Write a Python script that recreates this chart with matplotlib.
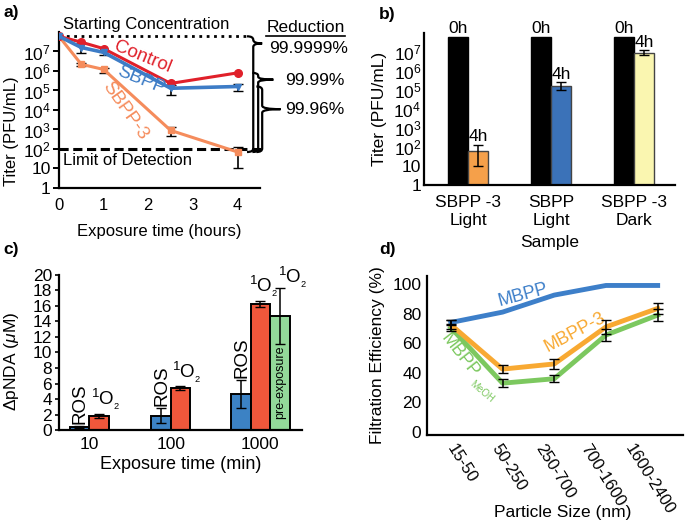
import numpy as np
import matplotlib.pyplot as plt
from matplotlib.path import Path
from matplotlib.patches import PathPatch
from matplotlib.lines import Line2D

plt.rcParams['font.family'] = ['Liberation Sans', 'DejaVu Sans']
plt.rcParams['mathtext.fontset'] = 'custom'
plt.rcParams['mathtext.rm'] = 'Liberation Sans'
plt.rcParams['mathtext.it'] = 'Liberation Sans:italic'
plt.rcParams['font.size'] = 12

#------------------------ panel a data ------------------------
t_hours = [0, 0.5, 1, 2.5, 4]
control = [6e7, 3e7, 1.4e7, 2.3e5, 8e5]
sbpp = [6e7, 1.6e7, 9e6, 1.3e5, 1.6e5]
sbpp3 = [6e7, 2.2e6, 1.2e6, 900, 70]
sbpp_lo = [6e7, 8e6, 7e6, 6e4, 9e4]
sbpp_hi = [6e7, 2.6e7, 1.1e7, 2e5, 2.1e5]
sbpp3_lo = [6e7, 1.7e6, 8e5, 450, 10]
sbpp3_hi = [6e7, 2.6e6, 1.4e6, 1300, 120]
start_conc = 6e7
lod = 100
log_ticks = [1, 10, 1e2, 1e3, 1e4, 1e5, 1e6, 1e7]
log_labels = ['1', '10'] + [r'$\mathregular{10^{%d}}$' % k for k in range(2, 8)]

#------------------------ panel b data ------------------------
samples = ['SBPP -3\nLight', 'SBPP\nLight', 'SBPP -3\nDark']
titer_0h = [6e7, 6e7, 6e7]
titer_4h = [65, 1.6e5, 9e6]
titer_4h_lo = [10, 1e5, 7e6]
titer_4h_hi = [130, 2.5e5, 1.2e7]
colors_4h = ['#f5a04a', '#3b72b8', '#faf6b0']

#------------------------ panel c data ------------------------
exp_min = ['10', '100', '1000']
ros = [0.4, 1.85, 4.65]
ros_err = [0.1, 1.0, 1.8]
o2 = [1.85, 5.4, 16.25]
o2_err = [0.25, 0.25, 0.4]
pre_exp = 14.7
pre_exp_err = 3.6

#------------------------ panel d data ------------------------
sizes = ['15-50', '50-250', '250-700', '700-1600', '1600-2400']
mbpp = [74, 81, 92.5, 99, 99]
mbpp3 = [72.5, 42.5, 46, 71, 83.5]
mbpp3_err = [3, 2.5, 3.5, 4.5, 3.5]
mbpp_meoh = [70.5, 33, 36, 65.5, 79]
mbpp_meoh_err = [2.5, 2.5, 2.5, 4, 4]

fig = plt.figure(figsize=(6.85, 5.26), dpi=100)


def style(ax):
    for s in ['top', 'right']:
        ax.spines[s].set_visible(False)
    for s in ['left', 'bottom']:
        ax.spines[s].set_linewidth(1.6)
    ax.tick_params(length=0)


def brace(ax, xh, xl, xt, y0, y1, yt, r=0.18):
    # curly brace "}" from y0 (top) to y1 (bottom), tip at yt
    l0, l1, lt = np.log10(y0), np.log10(y1), np.log10(yt)
    verts = [(xh, y0), (xl, y0), (xl, 10**(l0 - r)),
             (xl, 10**(lt + r)), (xl, yt), (xt, yt),
             (xl, yt), (xl, 10**(lt - r)),
             (xl, 10**(l1 + r)), (xl, y1), (xh, y1)]
    codes = [Path.MOVETO, Path.CURVE3, Path.CURVE3,
             Path.LINETO, Path.CURVE3, Path.CURVE3,
             Path.CURVE3, Path.CURVE3,
             Path.LINETO, Path.CURVE3, Path.CURVE3]
    ax.add_patch(PathPatch(Path(verts, codes), fill=False, lw=1.6,
                           color='black', clip_on=False))


#------------------------ a) ------------------------
ax = fig.add_axes([0.0861, 0.6426, 0.2934, 0.2966])
style(ax)
ax.set_yscale('log')
ax.set_ylim(1, 1e8)
ax.set_xlim(0, 4.5)
ax.set_xticks([0, 1, 2, 3, 4])
ax.set_yticks(log_ticks)
ax.set_yticklabels(log_labels)
ax.minorticks_off()
ax.tick_params(axis='y', length=4, width=1.4, pad=2, labelsize=12.5)
ax.tick_params(axis='x', pad=7)

ax.plot([0, 4.21], [start_conc, start_conc], ls=':', color='black', lw=2)
ax.plot([0, 4.55], [lod, lod], ls=(0, (3, 1.5)), color='black', lw=2.2,
        clip_on=False)

t = np.array(t_hours)
for y, lo, hi in [(sbpp, sbpp_lo, sbpp_hi), (sbpp3, sbpp3_lo, sbpp3_hi)]:
    y = np.array(y)
    ax.errorbar(t[1:], y[1:], yerr=[y[1:] - np.array(lo[1:]), np.array(hi[1:]) - y[1:]],
                fmt='none', ecolor='black', elinewidth=1.2, capsize=3.5, zorder=2)
ax.plot(t, sbpp3, color='#f58c5c', lw=2.2, marker='s', ms=5, zorder=3)
ax.plot(t, sbpp, color='#3d7cc6', lw=2.6, marker='v', ms=4, zorder=4)
ax.plot(t, control, color='#e0202a', lw=2.2, marker='o', ms=5.5, zorder=3)

ax.text(0.09, 2.4e8, 'Starting Concentration', va='center', ha='left', clip_on=False)
ax.text(0.09, 26, 'Limit of Detection', va='center', ha='left')
ax.text(1.88, 4.9e6, 'Control', color='#e0202a', rotation=-22, ha='center',
        va='center', fontsize=13.5)
ax.text(1.83, 3.2e5, 'SBPP', color='#3d7cc6', rotation=-22, ha='center',
        va='center', fontsize=13.5)
ax.text(1.48, 9e3, 'SBPP-3', color='#f58c5c', rotation=-55, ha='center',
        va='center', fontsize=13.5)

brace(ax, 4.21, 4.35, 4.55, start_conc, sbpp3[-1], 2.6e7)
brace(ax, 4.33, 4.46, 4.8, control[-1], sbpp3[-1], 3.6e5, r=0.15)
brace(ax, 4.42, 4.55, 4.96, sbpp[-1], sbpp3[-1], 1.1e4)
ax.text(4.7, 1.4e7, '99.9999%', va='center', ha='left', clip_on=False, fontsize=12.5)
ax.text(5.07, 3.4e5, '99.99%', va='center', ha='left', clip_on=False, fontsize=12.5)
ax.text(5.07, 1.1e4, '99.96%', va='center', ha='left', clip_on=False, fontsize=12.5)
red_txt = ax.text(5.52, 1.75e8, 'Reduction', va='center', ha='center', clip_on=False,
                  fontsize=12.5)

ax.set_xlabel('Exposure time (hours)', labelpad=8)
ax.set_ylabel('Titer (PFU/mL)')
ax.yaxis.set_label_coords(-0.2, 0.365)

#------------------------ b) ------------------------
bx = fig.add_axes([0.619, 0.6483, 0.3664, 0.289])
style(bx)
bx.set_yscale('log')
bx.set_ylim(1, 1e8)
bx.set_xlim(-0.53, 2.49)
bx.set_yticks(log_ticks)
bx.set_yticklabels(log_labels)
bx.minorticks_off()
bx.tick_params(axis='y', pad=2, labelsize=12.5)
bx.tick_params(axis='x', pad=7)
g = np.arange(len(samples))
w = 0.24
bx.bar(g - w / 2, np.array(titer_0h) - 1, w, bottom=1, color='black', edgecolor='black')
v4 = np.array(titer_4h)
bx.bar(g + w / 2, v4 - 1, w, bottom=1, color=colors_4h, edgecolor='#444444', lw=1)
bx.errorbar(g + w / 2, v4, yerr=[v4 - np.array(titer_4h_lo), np.array(titer_4h_hi) - v4],
            fmt='none', ecolor='black', elinewidth=1.1, capsize=3.5)
for i in range(len(samples)):
    bx.text(g[i] - w / 2, titer_0h[i] * 1.1, '0h', ha='center', va='bottom', fontsize=12.5)
    bx.text(g[i] + w / 2, titer_4h_hi[i] * 1.1, '4h', ha='center', va='bottom', fontsize=12.5)
bx.set_xticks(g)
bx.set_xticklabels(samples, linespacing=1.25, fontsize=12.5)
bx.set_xlabel('Sample', labelpad=5, fontsize=12.5)
bx.set_ylabel('Titer (PFU/mL)', fontsize=12.5)
bx.yaxis.set_label_coords(-0.147, 0.5)

#------------------------ c) ------------------------
cx = fig.add_axes([0.0861, 0.1825, 0.3547, 0.2947])
style(cx)
cx.set_ylim(0, 20)
cx.set_xlim(-0.37, 2.61)
cx.set_yticks(range(0, 21, 2))
cx.tick_params(axis='y', length=3, width=1.2, pad=2, labelsize=12.5)
cx.tick_params(axis='x', pad=5, labelsize=12.5)
gc = np.array([0, 1, 2.1])
wc = 0.24
xb = gc - np.array([wc / 2, wc / 2, wc])
xr = gc + np.array([wc / 2, wc / 2, 0])
xg = gc[2] + wc
cx.bar(xb, ros, wc, color='#3c82c4', edgecolor='black', lw=1.4)
cx.bar(xr, o2, wc, color='#f0573b', edgecolor='black', lw=1.4)
cx.bar(xg, pre_exp, wc, color='#93d99a', edgecolor='black', lw=1.4)
cx.errorbar(xb, ros, yerr=ros_err, fmt='none', ecolor='black', elinewidth=1.1, capsize=3.5)
cx.errorbar(xr, o2, yerr=o2_err, fmt='none', ecolor='black', elinewidth=1.1, capsize=3.5)
cx.errorbar([xg], [pre_exp], yerr=[pre_exp_err], fmt='none', ecolor='black',
            elinewidth=1.1, capsize=3.5)
o2_txt = r'$\mathregular{^1O_{_2}}$'
for i in range(3):
    cx.text(xb[i] + 0.01, ros[i] + ros_err[i] + 0.3, 'ROS', rotation=90, ha='center',
            va='bottom', fontsize=13.5)
    cx.text(xr[i] - wc / 2 + (0.02 if i < 2 else -0.02), o2[i] + o2_err[i] + 0.2, o2_txt,
            ha='left', va='bottom', fontsize=13.5)
cx.text(xg - wc / 2 + 0.1, pre_exp + pre_exp_err - 0.3, o2_txt, ha='left', va='bottom',
        fontsize=13.5, clip_on=False)
cx.text(xg, 6.1, 'pre-exposure', rotation=90, ha='center', va='center', fontsize=9)
cx.set_xticks(gc)
cx.set_xticklabels(exp_min)
cx.set_xlabel('Exposure time (min)', labelpad=3, fontsize=13)
cx.set_ylabel(r'ΔpNDA ($\mathit{μ}$M)', fontsize=12.5)
cx.yaxis.set_label_coords(-0.158, 0.44)

#------------------------ d) ------------------------
dx = fig.add_axes([0.6234, 0.173, 0.3737, 0.3023])
style(dx)
dx.set_ylim(-2, 105.4)
dx.set_xlim(-0.46, 4.49)
dx.set_yticks(range(0, 101, 20))
dx.tick_params(axis='y', pad=4, labelsize=12.5)
xd = np.arange(len(sizes))
dx.plot(xd, mbpp_meoh, color='#7cc85f', lw=3.5, zorder=2)
dx.plot(xd, mbpp3, color='#f8a932', lw=3.5, zorder=3)
dx.plot(xd, mbpp, color='#3d7fc9', lw=3.5, zorder=4)
dx.errorbar(xd, mbpp_meoh, yerr=mbpp_meoh_err, fmt='none', ecolor='black',
            elinewidth=1.1, capsize=3.5, zorder=5)
dx.errorbar(xd, mbpp3, yerr=mbpp3_err, fmt='none', ecolor='black',
            elinewidth=1.1, capsize=3.5, zorder=5)
dx.errorbar(xd[:1], mbpp[:1], yerr=[1.5], fmt='none', ecolor='black',
            elinewidth=1.1, capsize=3.5, zorder=5)
# tick labels sit a bit left of the data columns in the original
dx.set_xticks([0.12, 0.99, 1.82, 2.69, 3.56])
dx.set_xticklabels(sizes, rotation=-58, ha='left', va='top', rotation_mode='anchor',
                   fontsize=12)
dx.tick_params(axis='x', pad=5)
dx.text(1.39, 92.6, 'MBPP', color='#3d7fc9', rotation=15, ha='center', va='center',
        fontsize=13)
dx.text(2.4, 67.6, 'MBPP-3', color='#f8a932', rotation=28, ha='center', va='center',
        fontsize=13)
dx.text(0.17, 52, 'MBPP', color='#7cc85f', rotation=-52, ha='center', va='center',
        fontsize=13)
dx.text(0.6, 27, 'MeOH', color='#7cc85f', rotation=-40, ha='center', va='center',
        fontsize=7)
dx.set_xlabel('Particle Size (nm)', fontsize=12.5, va='top')
dx.xaxis.set_label_coords(0.53, -0.44)
dx.set_ylabel('Filtration Efficiency (%)', fontsize=12.5)
dx.yaxis.set_label_coords(-0.164, 0.5)

#------------------------ panel letters ------------------------
for lab, x, y in [('a)', 0.005, 0.977), ('b)', 0.553, 0.973),
                  ('c)', 0.005, 0.525), ('d)', 0.553, 0.525)]:
    fig.text(x, y, lab, fontweight='bold', fontsize=12.5, va='center')

# underline "Reduction"
fig.canvas.draw()
bb = red_txt.get_window_extent()
fig.add_artist(Line2D([bb.x0 / 685, bb.x1 / 685], [(bb.y0 - 1) / 526, (bb.y0 - 1) / 526],
                      color='black', lw=1.2))

fig.savefig('out.png', dpi=100)
